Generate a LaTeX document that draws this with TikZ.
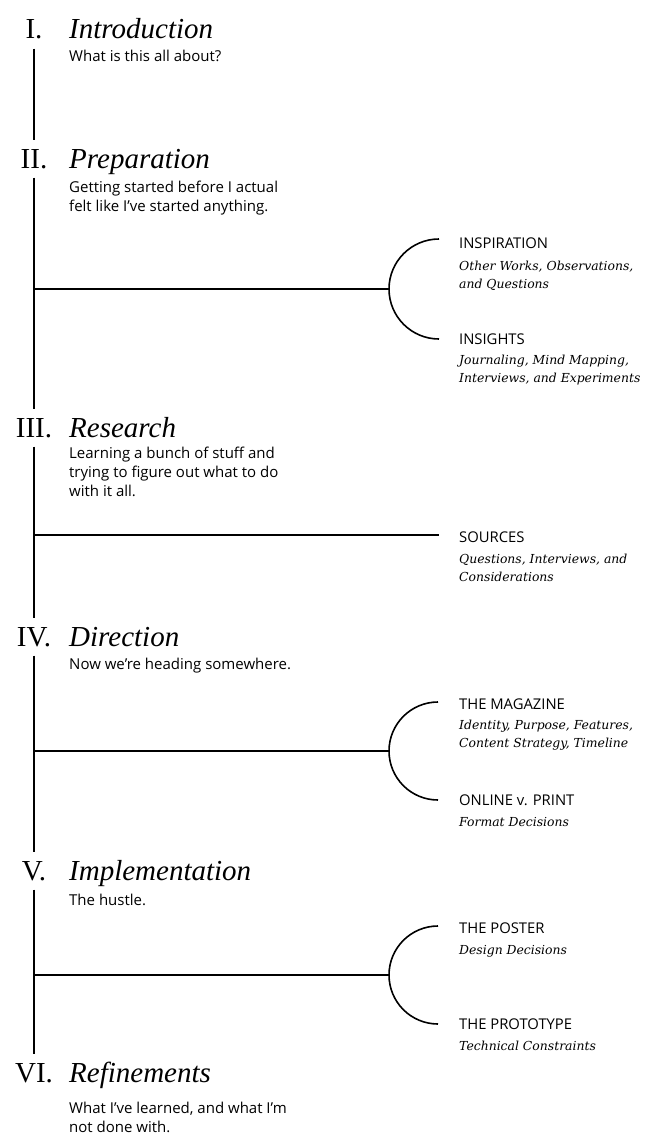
\documentclass[tikz,border=0pt]{standalone}
\usepackage{fontspec}
\setmainfont{Liberation Serif}
\newfontfamily\labelfont{Open Sans}
\newfontfamily\notefont{DejaVu Serif}
\newcommand\textlines[1]{\begin{tabular}[t]{@{}l@{}}#1\end{tabular}}
\begin{document}
\begin{tikzpicture}[x=1pt,y=1pt]

\tikzset{numeral/.style = {font=\fontsize{29}{29}\selectfont, inner xsep=0pt, inner ysep=9pt, anchor=base}}
\tikzset{chapter/.style = {font=\fontsize{29}{29}\selectfont\itshape, inner sep=0pt, anchor=base west}}
\tikzset{blurb/.style = {font=\labelfont\fontsize{15}{19}\selectfont, inner sep=0pt, anchor=base west}}
\tikzset{head/.style = {font=\labelfont\fontsize{14.8}{15}\selectfont, inner sep=0pt, anchor=base west}}
\tikzset{note/.style = {font=\notefont\itshape\fontsize{12.4}{18.5}\selectfont, inner sep=0pt, anchor=base west}}
\tikzset{spine/.style = {line width=2pt}}
\tikzset{branch/.style = {line width=1.6pt}}
\useasboundingbox (0,0) rectangle (666,-1148);
% chapters
\node[numeral] (Num1) at (34,-39) {I.};
\node[chapter] (Title1) at (69,-39) {Introduction};
\node[blurb] (Blurb1) at (69,-62) {What is this all about?};
\node[numeral] (Num2) at (34,-168) {II.};
\node[chapter] (Title2) at (69,-168) {Preparation};
\node[blurb] (Blurb2) at (69,-192) {\textlines{Getting started before I actual\\felt like I’ve started anything.}};
\node[numeral] (Num3) at (34,-437) {III.};
\node[chapter] (Title3) at (69,-437) {Research};
\node[blurb] (Blurb3) at (69,-458) {\textlines{Learning a bunch of stuff and\\trying to figure out what to do\\with it all.}};
\node[numeral] (Num4) at (34,-646) {IV.};
\node[chapter] (Title4) at (69,-646) {Direction};
\node[blurb] (Blurb4) at (69,-669) {Now we’re heading somewhere.};
\node[numeral] (Num5) at (34,-880) {V.};
\node[chapter] (Title5) at (69,-880) {Implementation};
\node[blurb] (Blurb5) at (69,-905) {The hustle.};
\node[numeral] (Num6) at (34,-1082) {VI.};
\node[chapter] (Title6) at (69,-1082) {Refinements};
\node[blurb] (Blurb6) at (69,-1113) {\textlines{What I’ve learned, and what I’m\\not done with.}};
% topics
\node[head] (Insp) at (459,-248) {INSPIRATION};
\node[note] (InspNote) at (459,-270) {\textlines{Other Works, Observations,\\and Questions}};
\node[head] (Insi) at (459,-344) {INSIGHTS};
\node[note] (InsiNote) at (459,-364) {\textlines{Journaling, Mind Mapping,\\Interviews, and Experiments}};
\node[head] (Src) at (459,-542) {SOURCES};
\node[note] (SrcNote) at (459,-563) {\textlines{Questions, Interviews, and\\Considerations}};
\node[head] (Mag) at (459,-709) {THE MAGAZINE};
\node[note] (MagNote) at (459,-729) {\textlines{Identity, Purpose, Features,\\Content Strategy, Timeline}};
\node[head] (Onl) at (459,-805) {ONLINE v. PRINT};
\node[note] (OnlNote) at (459,-826) {Format Decisions};
\node[head] (Post) at (459,-933) {THE POSTER};
\node[note] (PostNote) at (459,-954) {Design Decisions};
\node[head] (Proto) at (459,-1029) {THE PROTOTYPE};
\node[note] (ProtoNote) at (459,-1050) {Technical Constraints};
% spine
\draw[spine] (Num1.south) -- (Num2.north);
\draw[spine] (Num2.south) -- (Num3.north);
\draw[spine] (Num3.south) -- (Num4.north);
\draw[spine] (Num4.south) -- (Num5.north);
\draw[spine] (Num5.south) -- (Num6.north);
% branches
\coordinate (J2) at (34,-289);
\coordinate (F2) at (389,-289);
\coordinate (J3) at (34,-535);
\coordinate (F3) at (439,-535);
\coordinate (J4) at (34,-751);
\coordinate (F4) at (389,-751);
\coordinate (J5) at (34,-975);
\coordinate (F5) at (389,-975);
\draw[branch] (J2) -- (F2);
\draw[branch] (F2) arc[start angle=180, end angle=90, radius=50];
\draw[branch] (F2) arc[start angle=180, end angle=270, radius=50];
\draw[branch] (J3) -- (F3);
\draw[branch] (J4) -- (F4);
\draw[branch] (F4) arc[start angle=180, end angle=90, radius=49];
\draw[branch] (F4) arc[start angle=180, end angle=270, radius=49];
\draw[branch] (J5) -- (F5);
\draw[branch] (F5) arc[start angle=180, end angle=90, radius=49];
\draw[branch] (F5) arc[start angle=180, end angle=270, radius=49];
\end{tikzpicture}
\end{document}
